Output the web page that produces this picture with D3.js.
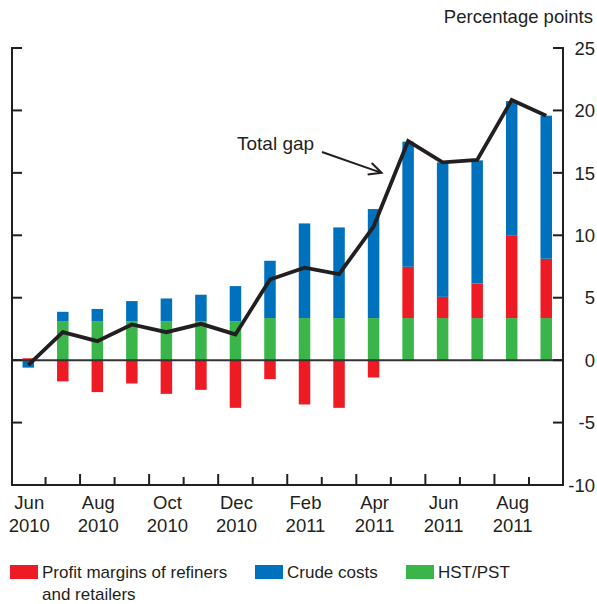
<!DOCTYPE html>
<html>
<meta charset='utf-8'>
<head>
<script src='https://d3js.org/d3.v7.min.js'></script>
<style>
  body { margin: 0; background: #fff; }
  text { font-family: 'Liberation Sans', Arial, sans-serif; fill: #231f20; }
</style>
</head>
<body>
<div id='chart'></div>
<script>
var months = ['Jun 2010', 'Jul 2010', 'Aug 2010', 'Sep 2010', 'Oct 2010', 'Nov 2010', 'Dec 2010',
  'Jan 2011', 'Feb 2011', 'Mar 2011', 'Apr 2011', 'May 2011', 'Jun 2011', 'Jul 2011', 'Aug 2011', 'Sep 2011']
var hstPst = [0, 3.12, 3.12, 3.12, 3.12, 3.12, 3.12, 3.37, 3.37, 3.37, 3.37, 3.37, 3.37, 3.37, 3.37, 3.37]
var profit = [0.15, -1.7, -2.56, -1.87, -2.7, -2.38, -3.82, -1.52, -3.55, -3.82, -1.39, 4.11, 1.7, 2.77, 6.59, 4.75]
var crude = [-0.6, 0.75, 0.98, 1.61, 1.82, 2.12, 2.81, 4.59, 7.58, 7.26, 8.73, 10.02, 10.77, 9.86, 10.79, 11.46]
var totalGap = [-0.4, 2.24, 1.52, 2.86, 2.24, 2.91, 2.06, 6.46, 7.4, 6.89, 10.7, 17.55, 15.84, 16.03, 20.83, 19.58]
var yTicks = [25, 20, 15, 10, 5, 0, -5, -10]
var labelMonths = ['Jun 2010', 'Aug 2010', 'Oct 2010', 'Dec 2010', 'Feb 2011', 'Apr 2011', 'Jun 2011', 'Aug 2011']

var colors = {hst: '#39b54a', profit: '#ed1c24', crude: '#0071bc'}
var ink = '#231f20'

var width = 597, height = 604
var plotLeft = 11, plotRight = 563, plotTop = 48, plotBottom = 485

var svg = d3.select('#chart')
  .append('svg')
    .attr('width', width)
    .attr('height', height)

var x = d3.scaleBand()
  .domain(months)
  .range([plotLeft, plotRight + 0.5])
var y = d3.scaleLinear()
  .domain([-10, 25])
  .range([plotBottom, plotTop])

var rows = months.map(function(m, i) {
  return {month: m, hst: hstPst[i], profit: profit[i], crude: crude[i]}
})
var stack = d3.stack()
  .keys(['hst', 'profit', 'crude'])
  .offset(d3.stackOffsetDiverging)
var series = stack(rows)

var barW = 11.5
svg.append('g')
  .selectAll('g')
  .data(series)
  .enter()
  .append('g')
    .attr('fill', function(d) { return colors[d.key] })
  .selectAll('rect')
  .data(function(d) { return d })
  .enter()
  .append('rect')
    .attr('x', function(d) { return x(d.data.month) + x.bandwidth() / 2 - barW / 2 })
    .attr('width', barW)
    .attr('y', function(d) { return y(d[1]) })
    .attr('height', function(d) { return y(d[0]) - y(d[1]) })

// zero line
svg.append('line')
  .attr('x1', 12).attr('x2', plotRight)
  .attr('y1', y(0)).attr('y2', y(0))
  .attr('stroke', '#333').attr('stroke-width', 2)

// right axis
var rightAxis = svg.append('g')
  .attr('transform', 'translate(' + plotRight + ',0)')
rightAxis.append('line')
  .attr('y1', plotTop).attr('y2', plotBottom + 1)
  .attr('stroke', ink).attr('stroke-width', 2)
rightAxis.selectAll('.tk')
  .data(yTicks)
  .enter()
  .append('line')
    .attr('x1', -10).attr('x2', 1)
    .attr('y1', function(d) { return y(d) })
    .attr('y2', function(d) { return y(d) })
    .attr('stroke', ink).attr('stroke-width', 2)
svg.append('g')
  .selectAll('text')
  .data(yTicks)
  .enter()
  .append('text')
    .attr('x', 595)
    .attr('y', function(d) { return y(d) })
    .attr('dy', '0.36em')
    .attr('text-anchor', 'end')
    .style('font-size', '18.5px')
    .text(function(d) { return d })

// left axis
var leftAxis = svg.append('g')
  .attr('transform', 'translate(12,0)')
leftAxis.append('line')
  .attr('y1', plotTop).attr('y2', plotBottom + 1)
  .attr('stroke', ink).attr('stroke-width', 2)
leftAxis.selectAll('.tk')
  .data(yTicks)
  .enter()
  .append('line')
    .attr('x1', -1).attr('x2', 10)
    .attr('y1', function(d) { return y(d) })
    .attr('y2', function(d) { return y(d) })
    .attr('stroke', ink).attr('stroke-width', 2)

// bottom axis
svg.append('line')
  .attr('x1', 11).attr('x2', plotRight + 1)
  .attr('y1', plotBottom).attr('y2', plotBottom)
  .attr('stroke', ink).attr('stroke-width', 2)
svg.append('g')
  .selectAll('line')
  .data(months.slice(1))
  .enter()
  .append('line')
    .attr('x1', function(d) { return x(d) })
    .attr('x2', function(d) { return x(d) })
    .attr('y1', plotBottom)
    .attr('y2', function(d, i) { return plotBottom - (i % 2 == 0 ? 8 : 11) })
    .attr('stroke', ink).attr('stroke-width', 2)

var xl = svg.append('g')
  .selectAll('text')
  .data(labelMonths)
  .enter()
  .append('text')
    .attr('x', function(d) { return x(d) + x.bandwidth() / 2 + 1 })
    .attr('y', 509)
    .attr('text-anchor', 'middle')
    .style('font-size', '18.5px')
xl.append('tspan')
  .text(function(d) { return d.split(' ')[0] })
xl.append('tspan')
  .attr('x', function(d) { return x(d) + x.bandwidth() / 2 + 1 })
  .attr('dy', 23)
  .text(function(d) { return d.split(' ')[1] })

svg.append('text')
  .attr('x', 593).attr('y', 23)
  .attr('text-anchor', 'end')
  .style('font-size', '18.5px')
  .text('Percentage points')

// total gap line
var line = d3.line()
  .x(function(d, i) { return x(months[i]) + x.bandwidth() / 2 })
  .y(function(d) { return y(d) })
svg.append('path')
  .datum(totalGap)
  .attr('d', line)
  .attr('fill', 'none')
  .attr('stroke', ink)
  .attr('stroke-width', 3.8)
  .attr('stroke-linejoin', 'miter')

// annotation
svg.append('text')
  .attr('x', 237).attr('y', 150)
  .style('font-size', '19px')
  .text('Total gap')
var tipX = x('Apr 2011') + x.bandwidth() / 2 + 8, tipY = y(15)
var sx = 322, sy = 152
var ang = Math.atan2(tipY - sy, tipX - sx)
var hl = 14, ha = 0.45
svg.append('path')
  .attr('d', 'M' + sx + ',' + sy + 'L' + tipX + ',' + tipY +
    'M' + (tipX - hl * Math.cos(ang - ha)) + ',' + (tipY - hl * Math.sin(ang - ha)) +
    'L' + tipX + ',' + tipY +
    'L' + (tipX - hl * Math.cos(ang + ha)) + ',' + (tipY - hl * Math.sin(ang + ha)))
  .attr('fill', 'none')
  .attr('stroke', ink)
  .attr('stroke-width', 2)

// legend
var legend = [
  {key: 'profit', x: 10, lines: ['Profit margins of refiners', 'and retailers']},
  {key: 'crude', x: 255, lines: ['Crude costs']},
  {key: 'hst', x: 406, lines: ['HST/PST']}
]
var lg = svg.append('g')
  .selectAll('g')
  .data(legend)
  .enter()
  .append('g')
lg.append('rect')
  .attr('x', function(d) { return d.x })
  .attr('y', 565)
  .attr('width', 28)
  .attr('height', 14)
  .attr('fill', function(d) { return colors[d.key] })
lg.each(function(d) {
  var t = d3.select(this).append('text')
    .attr('x', d.x + 32)
    .attr('y', 578)
    .style('font-size', '17px')
  d.lines.forEach(function(s, i) {
    t.append('tspan')
      .attr('x', d.x + 32)
      .attr('dy', i == 0 ? 0 : 22)
      .text(s)
  })
})
</script>
</body>
</html>
